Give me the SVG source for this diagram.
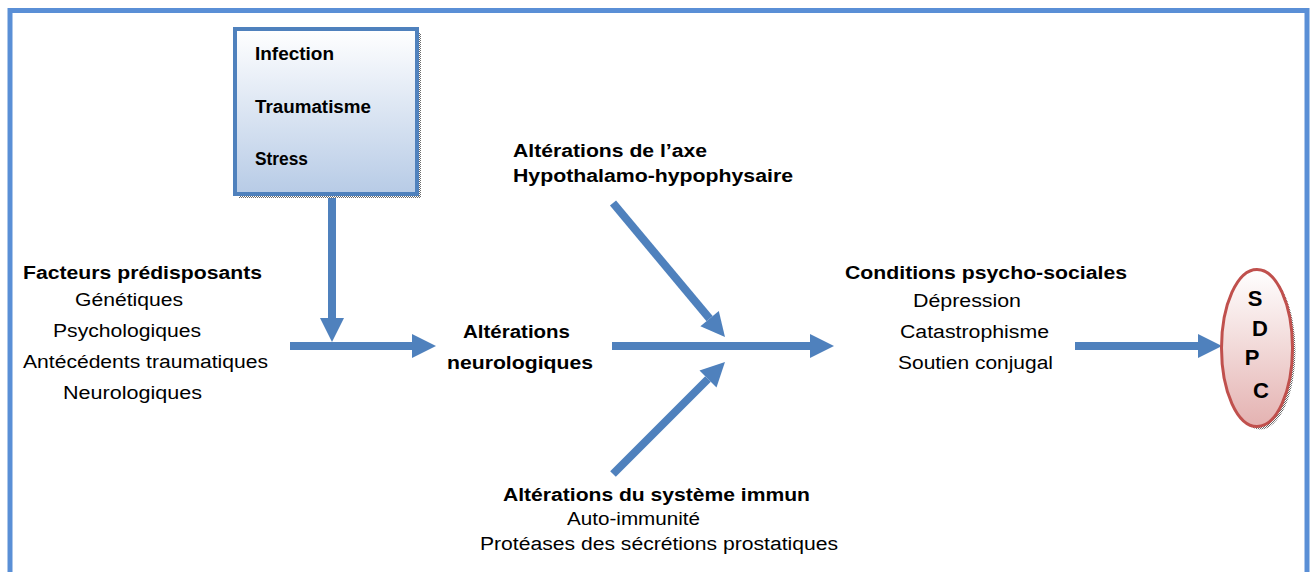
<svg xmlns="http://www.w3.org/2000/svg" width="1313" height="572" viewBox="0 0 1313 572">
<style>
.t{font-family:"Liberation Sans",Arial,sans-serif;font-size:18px;fill:#000}
.b{font-weight:bold}
.big{font-size:22px}
.arr{stroke:#4f81bd;stroke-width:8;fill:none;marker-end:url(#ah)}
</style>
<defs>
<marker id="ah" markerUnits="userSpaceOnUse" markerWidth="24" markerHeight="24" refX="0" refY="12" orient="auto" overflow="visible">
<path d="M0,0 L24,12 L0,24 z" fill="#4f81bd"/>
</marker>
<linearGradient id="gbox" x1="0" y1="0" x2="0" y2="1">
<stop offset="0" stop-color="#ffffff"/>
<stop offset="1" stop-color="#b7cbe6"/>
</linearGradient>
<linearGradient id="gell" x1="0" y1="0" x2="0" y2="1">
<stop offset="0" stop-color="#ffffff"/>
<stop offset="1" stop-color="#e4b2b1"/>
</linearGradient>
<pattern id="dots" width="2" height="2" patternUnits="userSpaceOnUse">
<rect width="2" height="2" fill="#ffffff"/>
<rect width="1" height="1" fill="#6b6b6b"/>
<rect x="1" y="1" width="1" height="1" fill="#6b6b6b"/>
</pattern>
</defs>
<rect width="1313" height="572" fill="#ffffff"/>
<rect x="10" y="10.5" width="1297" height="570" fill="none" stroke="#5a8fd6" stroke-width="5"/>

<g id="connectors">
<line class="arr" x1="332" y1="196" x2="332" y2="318"/>
<line class="arr" x1="290" y1="346" x2="412" y2="346"/>
<line class="arr" x1="612" y1="346" x2="810" y2="346"/>
<line class="arr" x1="613" y1="203" x2="709.6" y2="318.6"/>
<line class="arr" x1="613" y1="474" x2="708" y2="379"/>
<line class="arr" x1="1075" y1="346" x2="1198" y2="346"/>
</g>

<g id="box-triggers">
<rect x="239" y="33" width="182" height="165" fill="url(#dots)"/>
<rect x="235" y="29" width="182" height="165" fill="url(#gbox)" stroke="#4f81bd" stroke-width="4"/>
<text class="t b" x="255" y="60" textLength="79" lengthAdjust="spacingAndGlyphs">Infection</text>
<text class="t b" x="255" y="113" textLength="116" lengthAdjust="spacingAndGlyphs">Traumatisme</text>
<text class="t b" x="255" y="165" textLength="53" lengthAdjust="spacingAndGlyphs">Stress</text>
</g>

<g id="facteurs">
<text class="t b" x="23" y="279" textLength="239" lengthAdjust="spacingAndGlyphs">Facteurs prédisposants</text>
<text class="t" x="75" y="306" textLength="108" lengthAdjust="spacingAndGlyphs">Génétiques</text>
<text class="t" x="53" y="337" textLength="148" lengthAdjust="spacingAndGlyphs">Psychologiques</text>
<text class="t" x="23" y="368" textLength="245" lengthAdjust="spacingAndGlyphs">Antécédents traumatiques</text>
<text class="t" x="63" y="399" textLength="139" lengthAdjust="spacingAndGlyphs">Neurologiques</text>
</g>

<g id="neuro">
<text class="t b" x="463" y="338" textLength="107" lengthAdjust="spacingAndGlyphs">Altérations</text>
<text class="t b" x="447" y="369" textLength="146" lengthAdjust="spacingAndGlyphs">neurologiques</text>
</g>

<g id="axe">
<text class="t b" x="513" y="157" textLength="194" lengthAdjust="spacingAndGlyphs">Altérations de l’axe</text>
<text class="t b" x="513" y="182" textLength="280" lengthAdjust="spacingAndGlyphs">Hypothalamo-hypophysaire</text>
</g>

<g id="immun">
<text class="t b" x="503" y="501" textLength="307" lengthAdjust="spacingAndGlyphs">Altérations du système immun</text>
<text class="t" x="567" y="525" textLength="133" lengthAdjust="spacingAndGlyphs">Auto-immunité</text>
<text class="t" x="480" y="550" textLength="358" lengthAdjust="spacingAndGlyphs">Protéases des sécrétions prostatiques</text>
</g>

<g id="conditions">
<text class="t b" x="845" y="279" textLength="282" lengthAdjust="spacingAndGlyphs">Conditions psycho-sociales</text>
<text class="t" x="913" y="307" textLength="108" lengthAdjust="spacingAndGlyphs">Dépression</text>
<text class="t" x="900" y="338" textLength="149" lengthAdjust="spacingAndGlyphs">Catastrophisme</text>
<text class="t" x="898" y="369" textLength="155" lengthAdjust="spacingAndGlyphs">Soutien conjugal</text>
</g>

<g id="sdpc">
<ellipse cx="1260" cy="351" rx="35.5" ry="78.5" fill="url(#dots)"/>
<ellipse cx="1257" cy="348" rx="35.5" ry="78.5" fill="url(#gell)" stroke="#c0504d" stroke-width="3"/>
<text class="t b big" x="1255" y="306" text-anchor="middle">S</text>
<text class="t b big" x="1260" y="336" text-anchor="middle">D</text>
<text class="t b big" x="1252" y="365" text-anchor="middle">P</text>
<text class="t b big" x="1261" y="398" text-anchor="middle">C</text>
</g>
</svg>
